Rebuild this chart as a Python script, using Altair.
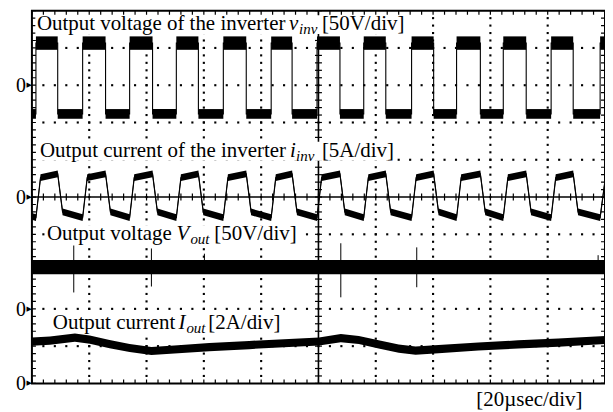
import altair as alt
import numpy as np
import pandas as pd

# ---------------- values ----------------
# horizontal: 10 div x 20 us ; vertical: 10 div
T_SPAN = 200.0
Y_DIVS = 10.0

# channel zero positions (div from bottom) and sensitivities (unit / div)
ZERO_VINV, ZERO_IINV, ZERO_VOUT, ZERO_IOUT = 8.0, 5.0, 2.0, 0.0
SCALE_VINV, SCALE_IINV, SCALE_VOUT, SCALE_IOUT = 50.0, 5.0, 50.0, 2.0

# inverter output voltage v_inv : switching instants (us) and levels (V)
VINV_RISE_US = [1.4, 17.7, 34.1, 50.4, 66.8, 83.5, 99.5, 115.8, 132.5, 148.2, 164.5, 181.2, 198.3]
VINV_FALL_US = [9.0, 25.7, 42.1, 58.1, 74.8, 90.8, 107.5, 123.5, 140.2, 156.5, 172.5, 188.9]
VINV_HIGH_V = 56.5
VINV_LOW_V = -38.5
VINV_HIGH_NOISE_V = 9.0   # half peak-to-peak width of the noise band
VINV_LOW_NOISE_V = 6.5

# inverter output current i_inv : breakpoints (us, A)
IINV_T_US = [0.0, 1.4, 3.0, 9.0, 10.7, 17.7, 19.3, 25.7, 27.4, 34.1, 35.7, 42.1, 43.8,
             50.4, 52.0, 58.1, 59.8, 66.8, 68.4, 74.8, 76.5, 83.5, 85.1, 90.8, 92.5,
             99.5, 101.1, 107.5, 109.2, 115.8, 117.4, 123.5, 125.2, 132.5, 134.1,
             140.2, 141.9, 148.2, 149.8, 156.5, 158.2, 164.5, 166.1, 172.5, 174.2,
             181.2, 182.8, 188.9, 190.6, 198.3, 200.0]
IINV_A = [-2.6, -2.75, 2.6, 3.1, -2.0, -2.75, 2.6, 3.1, -2.0, -2.75, 2.6, 3.1, -2.0,
          -2.75, 2.6, 3.1, -2.0, -2.75, 2.6, 3.1, -2.0, -2.75, 2.6, 3.1, -2.0,
          -2.75, 2.6, 3.1, -2.0, -2.75, 2.6, 3.1, -2.0, -2.75, 2.6,
          3.1, -2.0, -2.75, 2.6, 3.1, -2.0, -2.75, 2.6, 3.1, -2.0,
          -2.75, 2.6, 3.1, -2.0, -2.75, 2.2]
IINV_NOISE_A = 0.45

# output voltage V_out (V)
VOUT_T_US = [0.0, 200.0]
VOUT_V = [56.0, 56.0]
VOUT_NOISE_V = 9.5
VOUT_SPIKE_T_US = [14.6, 41.7, 60.2, 107.8, 134.3, 197.6]
VOUT_SPIKE_HI_V = [85.0, 81.0, 74.0, 88.0, 82.5, 72.0]
VOUT_SPIKE_LO_V = [22.0, 30.0, 48.0, 15.5, 29.0, 48.0]

# output current I_out (A)
IOUT_T_US = [0.0, 6.3, 15.0, 20.2, 27.1, 34.1, 41.7, 49.7, 61.9, 75.8, 89.7, 100.2,
             107.8, 114.1, 121.0, 128.0, 133.9, 141.9, 155.8, 169.7, 183.7, 200.0]
IOUT_A = [2.24, 2.30, 2.46, 2.35, 2.11, 1.90, 1.74, 1.82, 1.95, 2.06, 2.17, 2.25,
          2.43, 2.33, 2.09, 1.87, 1.76, 1.84, 1.98, 2.09, 2.19, 2.33]
IOUT_NOISE_A = 0.22

# annotation texts (anchors in us / div)
LBL_MAIN = ["Output voltage of the inverter", "[50V/div]",
            "Output current of the inverter", "[5A/div]",
            "Output voltage", "[50V/div]",
            "Output current", "[2A/div]",
            "[20\u00b5sec/div]"]
LBL_MAIN_T = [1.74, 101.2, 2.78, 101.2, 5.22, 63.65, 7.30, 61.57, 155.1]
LBL_MAIN_Y = [9.479, 9.479, 6.083, 6.083, 3.837, 3.837, 1.457, 1.457, -0.602]
LBL_ITAL = ["v", "i", "V", "I"]
LBL_ITAL_T = [89.74, 90.09, 50.43, 51.13]
LBL_ITAL_Y = [9.479, 6.083, 3.837, 1.457]
LBL_SUB = ["inv", "inv", "out", "out"]
LBL_SUB_T = [93.22, 92.17, 55.30, 53.91]
LBL_SUB_Y = [9.372, 5.976, 3.730, 1.350]
# white boxes behind the four trace captions: start/end (us), baseline (div)
BOX_T1 = [1.2, 2.2, 4.6, 6.7]
BOX_T2 = [131.8, 126.6, 94.2, 88.3]
BOX_BASE = [9.479, 6.083, 3.837, 1.457]
ZERO_MARKS = [ZERO_VINV, ZERO_IINV, ZERO_VOUT, ZERO_IOUT]

FONT = "Liberation Serif"
DIV_PER_PX = Y_DIVS / 374.0

# ---------------- build tables ----------------
def to_div(values, zero, scale):
    return [zero + v / scale for v in values]

# v_inv square wave path and plateau bands
edges = sorted([(t, VINV_HIGH_V) for t in VINV_RISE_US] + [(t, VINV_LOW_V) for t in VINV_FALL_US])
path = [(0.0, VINV_LOW_V)]
bands = []
level, start = VINV_LOW_V, 0.0
for t, new in edges:
    path.append((t, level))
    path.append((t, new))
    bands.append((start, t, level))
    level, start = new, t
path.append((T_SPAN, level))
bands.append((start, T_SPAN, level))

vinv_line = pd.DataFrame({
    "t": [p[0] for p in path],
    "y": to_div([p[1] for p in path], ZERO_VINV, SCALE_VINV),
    "idx": list(range(len(path))),
})
noise_of = lambda lvl: VINV_HIGH_NOISE_V if lvl > 0 else VINV_LOW_NOISE_V
vinv_band = pd.DataFrame({
    "t1": [b[0] for b in bands],
    "t2": [b[1] for b in bands],
    "hi": [ZERO_VINV + (b[2] + noise_of(b[2])) / SCALE_VINV for b in bands],
    "lo": [ZERO_VINV + (b[2] - noise_of(b[2])) / SCALE_VINV for b in bands],
})

def trace(ts, vals, zero, scale, noise, name):
    return pd.DataFrame({
        "ch": name,
        "t": ts,
        "y": to_div(vals, zero, scale),
        "hi": to_div([v + noise for v in vals], zero, scale),
        "lo": to_div([v - noise for v in vals], zero, scale),
    })

traces = pd.concat([
    trace(IINV_T_US, IINV_A, ZERO_IINV, SCALE_IINV, IINV_NOISE_A, "iinv"),
    trace(VOUT_T_US, VOUT_V, ZERO_VOUT, SCALE_VOUT, VOUT_NOISE_V, "vout"),
    trace(IOUT_T_US, IOUT_A, ZERO_IOUT, SCALE_IOUT, IOUT_NOISE_A, "iout"),
], ignore_index=True)

spikes = pd.DataFrame({
    "t": VOUT_SPIKE_T_US,
    "hi": to_div(VOUT_SPIKE_HI_V, ZERO_VOUT, SCALE_VOUT),
    "lo": to_div(VOUT_SPIKE_LO_V, ZERO_VOUT, SCALE_VOUT),
})

boxes = pd.DataFrame({
    "t1": BOX_T1, "t2": BOX_T2,
    "y1": [b - 4 * DIV_PER_PX for b in BOX_BASE],
    "y2": [b + 15 * DIV_PER_PX for b in BOX_BASE],
})

# graticule
minor_t = np.round(np.arange(0, T_SPAN + 0.01, T_SPAN / 50), 4)
minor_y = np.round(np.arange(0, Y_DIVS + 0.001, Y_DIVS / 50), 4)
major_t = [20, 40, 60, 80, 120, 140, 160, 180]
major_y = [1, 2, 3, 4, 6, 7, 8, 9]
dots = pd.DataFrame(
    [(t, y) for t in major_t for y in minor_y[1:-1]] +
    [(t, y) for y in major_y for t in minor_t[1:-1]],
    columns=["t", "y"])
hticks_edge = pd.DataFrame([(t, y) for t in minor_t for y in (0.0, Y_DIVS)], columns=["t", "y"])
vticks_edge = pd.DataFrame([(t, y) for y in minor_y for t in (0.0, T_SPAN)], columns=["t", "y"])
hticks_mid = pd.DataFrame({"t": minor_t, "y": Y_DIVS / 2})
vticks_mid = pd.DataFrame({"t": T_SPAN / 2, "y": minor_y})
cross = pd.DataFrame({"t": [T_SPAN / 2, 0.0], "t2": [T_SPAN / 2, T_SPAN],
                      "y": [0.0, Y_DIVS / 2], "y2": [Y_DIVS, Y_DIVS / 2]})

lbl_main = pd.DataFrame({"text": LBL_MAIN, "t": LBL_MAIN_T, "y": LBL_MAIN_Y})
lbl_ital = pd.DataFrame({"text": LBL_ITAL, "t": LBL_ITAL_T, "y": LBL_ITAL_Y})
lbl_sub = pd.DataFrame({"text": LBL_SUB, "t": LBL_SUB_T, "y": LBL_SUB_Y})
zeros = pd.DataFrame({"t": 0.0, "y": ZERO_MARKS})

# ---------------- chart ----------------
xs = alt.Scale(domain=[0, T_SPAN], nice=False, zero=False)
ys = alt.Scale(domain=[0, Y_DIVS], nice=False, zero=False)

def X(f="t"):
    return alt.X(f, type="quantitative", scale=xs, axis=None)

def Y(f="y"):
    return alt.Y(f, type="quantitative", scale=ys, axis=None)

layers = [
    alt.Chart(dots).mark_square(size=4.5, color="black", opacity=1).encode(x=X(), y=Y()),
    alt.Chart(cross).mark_rule(color="black", strokeWidth=1.6).encode(
        x=X(), x2="t2", y=Y(), y2="y2"),
    alt.Chart(hticks_edge).mark_tick(orient="vertical", size=8, thickness=1.2, color="black",
                                     clip=True, opacity=1).encode(x=X(), y=Y()),
    alt.Chart(vticks_edge).mark_tick(orient="horizontal", size=8, thickness=1.2, color="black",
                                     clip=True, opacity=1).encode(x=X(), y=Y()),
    alt.Chart(hticks_mid).mark_tick(orient="vertical", size=7, thickness=1.2, color="black",
                                    opacity=1).encode(x=X(), y=Y()),
    alt.Chart(vticks_mid).mark_tick(orient="horizontal", size=7, thickness=1.2, color="black",
                                    opacity=1).encode(x=X(), y=Y()),
    # white boxes behind captions
    alt.Chart(boxes).mark_rect(color="white").encode(
        x=X("t1"), x2="t2", y=Y("y1"), y2="y2"),
    # noise bands
    alt.Chart(vinv_band).mark_rect(color="black").encode(
        x=X("t1"), x2="t2", y=Y("hi"), y2="lo"),
    alt.Chart(traces).mark_area(color="black", opacity=1).encode(
        x=X(), y=Y("hi"), y2="lo", detail="ch:N"),
    # traces
    alt.Chart(vinv_line).mark_line(color="black", strokeWidth=1.1).encode(
        x=X(), y=Y(), order="idx:Q"),
    alt.Chart(traces).mark_line(color="black", strokeWidth=1.2).encode(
        x=X(), y=Y(), detail="ch:N"),
    alt.Chart(spikes).mark_rule(color="black", strokeWidth=1).encode(
        x=X(), y=Y("hi"), y2="lo"),
    # texts
    alt.Chart(lbl_main).mark_text(font=FONT, fontSize=21, align="left", baseline="alphabetic",
                                  color="black").encode(x=X(), y=Y(), text="text:N"),
    alt.Chart(lbl_ital).mark_text(font=FONT, fontSize=21, fontStyle="italic", align="left",
                                  baseline="alphabetic", color="black").encode(
        x=X(), y=Y(), text="text:N"),
    alt.Chart(lbl_sub).mark_text(font=FONT, fontSize=15, fontStyle="italic", align="left",
                                 baseline="alphabetic", color="black").encode(
        x=X(), y=Y(), text="text:N"),
    alt.Chart(zeros).mark_text(text="0", font=FONT, fontSize=20, align="right", baseline="middle",
                               dx=-6, dy=1, color="black").encode(x=X(), y=Y()),
    alt.Chart(zeros).mark_text(text="\u25b6", font="DejaVu Sans", fontSize=7, align="right",
                               baseline="middle", dx=0, color="black").encode(x=X(), y=Y()),
]

chart = alt.layer(*layers).properties(
    width=575, height=374,
    autosize=alt.AutoSizeParams(type="none"),
    padding={"left": 24, "top": 2, "right": 0, "bottom": 28},
    background="white",
).configure_view(stroke="black", strokeWidth=2)

chart.save("out.html", embed_options={"renderer": "svg", "actions": False})
